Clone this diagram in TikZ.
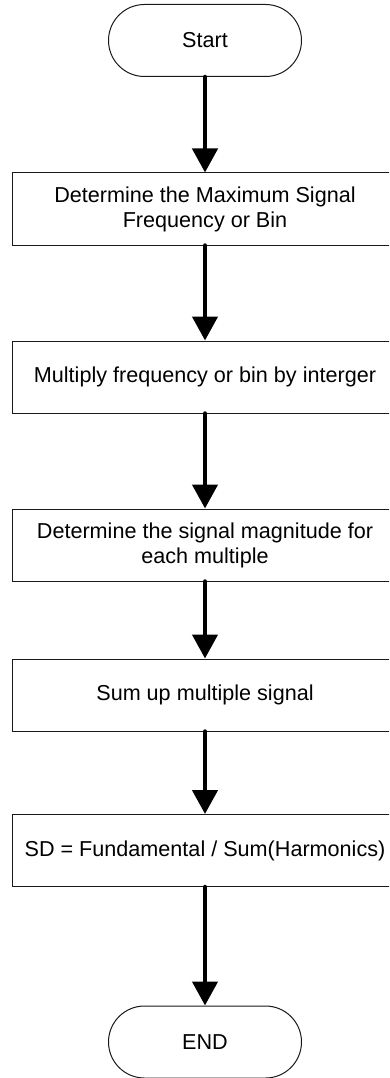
\documentclass[tikz,border=0pt]{standalone}
\usepackage{fontspec}
\setmainfont{Liberation Sans}
\usetikzlibrary{arrows.meta}
\begin{document}
\begin{tikzpicture}[x=1pt,y=-1pt,
  font=\fontsize{21.6}{25}\selectfont,
  stepbox/.style={draw=black!90, line width=1pt, rectangle, align=center,
    minimum width=386pt, minimum height=72pt, inner sep=2pt},
  terminal/.style={draw=black!90, line width=1pt, rectangle, rounded corners=36pt,
    minimum width=193pt, minimum height=72pt, inner sep=2pt},
  flow/.style={line width=4.5pt, line cap=round,
    -{Triangle[width=25pt,length=24pt]}}]
  \useasboundingbox (0,0) rectangle (389,1078);
  \clip (0,0) rectangle (389,1078);

  \node[terminal] (start) at (205,40.5) {Start};
  \node[stepbox] (s1) at (205,209) {Determine the Maximum Signal\\Frequency or Bin};
  \node[stepbox] (s2) at (205,377) {Multiply frequency or bin by interger};
  \node[stepbox] (s3) at (205,545) {Determine the signal magnitude for\\each multiple};
  \node[stepbox] (s4) at (205,695) {Sum up multiple signal};
  \node[stepbox] (s5) at (205,850.5) {SD = Fundamental / Sum(Harmonics)};
  \node[terminal] (stop) at (205,1042) {END};

  \draw[flow] (start) -- (s1);
  \draw[flow] (s1) -- (s2);
  \draw[flow] (s2) -- (s3);
  \draw[flow] (s3) -- (s4);
  \draw[flow] (s4) -- (s5);
  \draw[flow] (s5) -- (stop);
\end{tikzpicture}
\end{document}
